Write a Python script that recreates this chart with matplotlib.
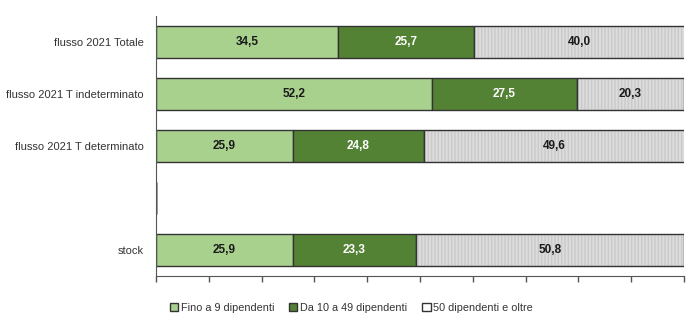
import matplotlib.pyplot as plt
import numpy as np

# quote per classe dimensionale (%)
categorie = ['flusso 2021 Totale', 'flusso 2021 T indeterminato',
             'flusso 2021 T determinato', '', 'stock']
fino_9 = [34.5, 52.2, 25.9, 0, 25.9]
da_10_49 = [25.7, 27.5, 24.8, 0, 23.3]
oltre_50 = [40.0, 20.3, 49.6, 0, 50.8]
serie_nomi = ['Fino a 9 dipendenti', 'Da 10 a 49 dipendenti', '50 dipendenti e oltre']

colori = ['#a9d18e', '#548235', '#dcdcdc']
testo_col = ['#1a1a1a', 'white', '#1a1a1a']

plt.rcParams['font.family'] = ['Liberation Sans', 'DejaVu Sans']

fig = plt.figure(figsize=(7, 3.25), dpi=100)
ax = fig.add_axes([0.223, 0.151, 0.754, 0.80])

y = np.arange(len(categorie))
left = np.zeros(len(categorie))
for valori, col, tc, nome in zip([fino_9, da_10_49, oltre_50], colori, testo_col, serie_nomi):
    v = np.array(valori)
    if col == '#dcdcdc':
        # texture fine sulla serie grigia
        ax.barh(y, v, left=left, height=0.63, color=col, hatch='|||||',
                edgecolor='#cacaca', linewidth=0)
        ax.barh(y, v, left=left, height=0.63, facecolor='none',
                edgecolor='#333333', linewidth=1.0, label=nome)
    else:
        ax.barh(y, v, left=left, height=0.63, color=col,
                edgecolor='#333333', linewidth=1.0, label=nome)
    for yi, (l, val) in enumerate(zip(left, v)):
        if val > 0:
            ax.text(l + val / 2, yi, f'{val:.1f}'.replace('.', ','),
                    ha='center', va='center', fontsize=8.5, fontweight='bold', color=tc)
    left = left + v

ax.set_ylim(len(categorie) - 0.5, -0.5)
ax.set_xlim(0, 100)
ax.set_yticks(y)
ax.set_yticklabels(categorie, fontsize=8, color='#333333')
ax.tick_params(axis='y', length=0, pad=9)
ax.set_xticks(np.arange(0, 101, 10))
ax.set_xticklabels([])
ax.tick_params(axis='x', length=4, width=1, color='#555555', direction='out')
for s in ['top', 'right']:
    ax.spines[s].set_visible(False)
ax.spines['left'].set_color('#555555')
ax.spines['bottom'].set_color('#555555')

leg = ax.legend(loc='upper center', bbox_to_anchor=(0.37, -0.065), ncol=3, frameon=False,
                fontsize=7.8, handlelength=0.75, handleheight=0.75, handletextpad=0.25,
                columnspacing=1.4, labelcolor='#333333')

fig.savefig('out.png', dpi=100)
